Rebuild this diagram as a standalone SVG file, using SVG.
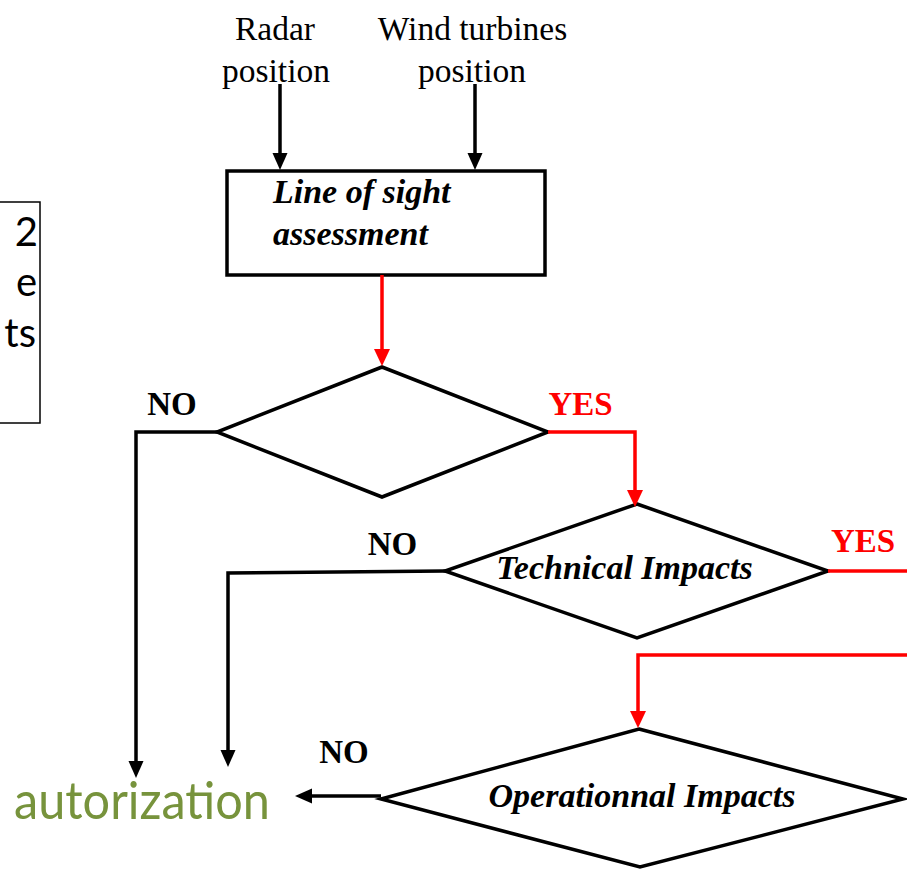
<svg xmlns="http://www.w3.org/2000/svg" width="907" height="870" viewBox="0 0 907 870">
<style>
.shape{fill:#fff;stroke:#000;stroke-width:3.5;stroke-linejoin:miter}
.blk{fill:none;stroke:#000;stroke-width:3.5}
.red{fill:none;stroke:#ff0000;stroke-width:3.5}
.tnr{font-family:"Liberation Serif","Times New Roman",serif;font-size:33.5px;fill:#000}
.bi{font-family:"Liberation Serif","Times New Roman",serif;font-size:34px;font-weight:bold;font-style:italic;fill:#000}
.lbl{font-family:"Liberation Serif","Times New Roman",serif;font-size:33px;font-weight:bold}
.cal{font-family:Lato,"Open Sans",sans-serif}
</style>
<defs>
<marker id="ab" viewBox="0 -8 17 16" refX="1" refY="0" markerWidth="17" markerHeight="16" markerUnits="userSpaceOnUse" orient="auto">
<path d="M0,-7.5 L17,0 L0,7.5 z" fill="#000"/>
</marker>
<marker id="ar" viewBox="0 -8 17 16" refX="1" refY="0" markerWidth="17" markerHeight="16" markerUnits="userSpaceOnUse" orient="auto">
<path d="M0,-8 L17,0 L0,8 z" fill="#ff0000"/>
</marker>
</defs>

<g id="left-box">
<rect x="-20" y="202" width="60" height="221" fill="none" stroke="#000" stroke-width="1.5"/>
<text class="cal" font-size="40" text-anchor="end" x="38" y="246">2</text>
<text class="cal" font-size="40" text-anchor="end" x="37" y="296">e</text>
<text class="cal" font-size="40" text-anchor="end" x="36" y="347">ts</text>
</g>

<g id="radar-position">
<text class="tnr" text-anchor="middle" x="275" y="40">Radar</text>
<text class="tnr" text-anchor="middle" x="276" y="82">position</text>
</g>

<g id="wind-turbines-position">
<text class="tnr" text-anchor="middle" x="472.5" y="40">Wind turbines</text>
<text class="tnr" text-anchor="middle" x="472" y="82">position</text>
</g>

<g id="line-of-sight">
<rect class="shape" x="227" y="171" width="318" height="104"/>
<text class="bi" x="273" y="203">Line of sight</text>
<text class="bi" x="273" y="245">assessment</text>
</g>

<g id="decision-1">
<polygon class="shape" points="382,367 548,432 382,497 217,432"/>
</g>

<g id="technical-impacts">
<polygon class="shape" points="637,504 828,571 637,638 445,571"/>
<text class="bi" text-anchor="middle" x="624.5" y="579">Technical Impacts</text>
</g>

<g id="operational-impacts">
<polygon class="shape" points="639,729 903,799 640,867 381,799"/>
<text class="bi" text-anchor="middle" x="642" y="807">Operationnal Impacts</text>
</g>

<g id="autorization">
<text class="cal" font-size="52" x="14" y="819" fill="#77933C" textLength="256" lengthAdjust="spacingAndGlyphs">autorization</text>
</g>

<g id="connectors">
<path class="blk" stroke-width="4" d="M280,84 V154" marker-end="url(#ab)"/>
<path class="blk" stroke-width="4" d="M475,84 V154" marker-end="url(#ab)"/>
<path class="red" stroke-width="5" d="M382,275 V350" marker-end="url(#ar)"/>
<path class="blk" d="M217,432 H136 V762" marker-end="url(#ab)"/>
<path class="red" d="M548,432 H635 V491" marker-end="url(#ar)"/>
<path class="blk" d="M445,571 L228,573 V751" marker-end="url(#ab)"/>
<path class="red" d="M828,571 H907"/>
<path class="red" d="M907,655 H638 V712" marker-end="url(#ar)"/>
<path class="blk" stroke-width="4" d="M381,796 H311" marker-end="url(#ab)"/>
</g>

<g id="labels">
<text class="lbl" fill="#000" text-anchor="middle" x="172" y="415">NO</text>
<text class="lbl" fill="#ff0000" text-anchor="middle" x="580.5" y="415">YES</text>
<text class="lbl" fill="#000" text-anchor="middle" x="392.5" y="555">NO</text>
<text class="lbl" fill="#ff0000" text-anchor="middle" x="863" y="552">YES</text>
<text class="lbl" fill="#000" text-anchor="middle" x="344" y="763">NO</text>
</g>
</svg>
